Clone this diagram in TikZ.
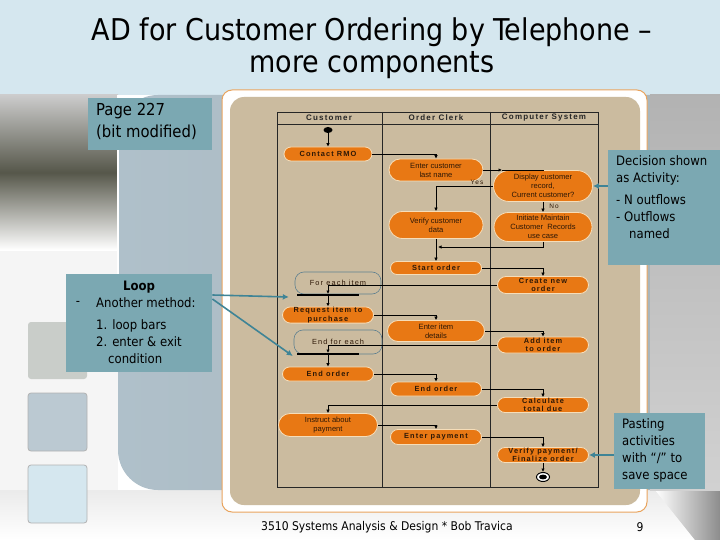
\documentclass[tikz,border=0pt]{standalone}
\usepackage{fontspec}
\setmainfont{DejaVu Sans Condensed}
\newfontfamily\dia[LetterSpace=15]{Liberation Sans}
\newfontfamily\dian{Liberation Sans}
\usetikzlibrary{shapes.misc,shapes.geometric,arrows.meta,calc}
\definecolor{titlebg}{HTML}{D5E7EF}
\definecolor{panelL}{HTML}{AFC0CA}
\definecolor{panelR}{HTML}{A9B3B8}
\definecolor{tanbg}{HTML}{CBBB9F}
\definecolor{actfill}{HTML}{E87814}
\definecolor{actedge}{HTML}{F6DDB8}
\definecolor{acttext}{HTML}{2E1806}
\definecolor{callbg}{HTML}{7BA8B2}
\definecolor{callline}{HTML}{3F8496}
\definecolor{cloudcol}{HTML}{5E8090}
\definecolor{frameor}{HTML}{E9A45E}
\definecolor{photo}{HTML}{56574A}
\begin{document}
\begin{tikzpicture}[x=1pt,y=-1pt,
  act/.style={rounded rectangle, fill=actfill, draw=actedge, line width=0.8pt,
    font=\dia\bfseries\fontsize{7.4}{8.3}\selectfont, text=acttext, align=center, inner sep=0.5pt},
  narrow/.style={font=\dian\fontsize{7.6}{9}\selectfont},
  flow/.style={draw=black, line width=0.7pt, -{Latex[length=3.5pt,width=3.5pt]}},
  lbl/.style={font=\dia\fontsize{6.5}{7}\selectfont, text=acttext, inner sep=0.5pt},
  lanehead/.style={font=\dia\bfseries\fontsize{8}{9}\selectfont, text=black!85},
  barnode/.style={fill=black, minimum width=62pt, minimum height=1.6pt, inner sep=0pt},
  cloudbox/.style={draw=cloudcol, line width=0.6pt, rounded corners=9pt,
    font=\dia\fontsize{7.4}{8}\selectfont, text=acttext, inner sep=1pt},
  callbox/.style={fill=callbg, draw=none, inner sep=0pt},
  calltext/.style={font=\fontsize{13}{17}\selectfont, text=black, align=left, inner sep=0pt},
  callarrow/.style={draw=callline, line width=1.6pt, -{Latex[length=6pt,width=6pt]}},
  squarebox/.style={rounded corners=3pt}
]
\useasboundingbox (0,0) rectangle (720,540);
% ---------- slide background ----------
\fill[white] (0,0) rectangle (720,540);
\fill[titlebg] (0,0) rectangle (720,95);
\fill[top color=black!8, bottom color=white] (0,490) rectangle (720,540);
\shade[left color=white, right color=black!45] (655,490) -- (720,490) -- (720,540) -- (695,540) -- cycle;
\fill[color=black!4] (0,250) rectangle (118,490);
\shade[top color=black!20, bottom color=white, middle color=photo] (0,95) rectangle (118,250);
\shade[left color=panelL, right color=panelR, rounded corners=40pt] (118,95) -- (118,490) -- (720,490) -- (720,95) -- cycle;
\shade[top color=black!30, bottom color=black!18] (650,95) rectangle (720,490);
\draw[white, line width=1.2pt] (118,95) -- (118,372);
% left decorative squares
\fill[squarebox, fill=black!25!green!5!gray!40] (28,322) rectangle (87,379);
\fill[squarebox, fill=panelL!85!white] (28,393) rectangle (87,451);
\fill[squarebox, fill=titlebg] (28,465) rectangle (87,523);
\draw[black!30, line width=0.8pt, rounded corners=3pt] (28,393) rectangle (87,451);
\draw[black!30, line width=0.8pt, rounded corners=3pt] (28,465) rectangle (87,523);
% ---------- title ----------
\node[font=\fontsize{30}{32}\selectfont, align=center, text=black] (title) at (372,48)
  {AD for Customer Ordering by Telephone --\\more components};
% ---------- diagram frame ----------
\fill[white, draw=frameor, line width=1pt, rounded corners=10pt] (222,90) rectangle (647,512);
\fill[tanbg, rounded corners=14pt] (230,97) rectangle (640,505);
\draw[black!85, line width=0.8pt] (277,112) rectangle (598,487);
\draw[black!85, line width=0.8pt] (277,124) -- (598,124);
\draw[black!85, line width=0.8pt] (382,112) -- (382,487);
\draw[black!85, line width=0.8pt] (490,112) -- (490,487);
\node[lanehead] (h1) at (329,118) {Customer};
\node[lanehead] (h2) at (436,118) {Order Clerk};
\node[lanehead] (h3) at (544,118) {Computer System};
% ---------- activities ----------
\node[ellipse, fill=black, minimum width=9pt, minimum height=6pt, inner sep=0pt] (start) at (328,130) {};
\node[act, minimum width=89pt, minimum height=14pt] (rmo) at (328,154) {Contact RMO};
\node[act, narrow, minimum width=95pt, minimum height=22pt] (ecl) at (436,170) {Enter customer\\last name};
\node[act, narrow, minimum width=100pt, minimum height=31pt] (dcr) at (543,186) {Display customer\\record,\\Current customer?};
\node[act, narrow, minimum width=95pt, minimum height=27pt] (ver) at (436,225) {Verify customer\\data};
\node[act, narrow, minimum width=99pt, minimum height=29pt] (imc) at (543,227) {Initiate Maintain\\Customer\ \ Records\\use case};
\node[act, minimum width=92pt, minimum height=13pt] (sto) at (436,268) {Start order};
\node[act, minimum width=92pt, minimum height=17pt] (cno) at (543,285) {Create new\\order};
\node[cloudbox, minimum width=86pt, minimum height=22pt] (fe) at (338,283) {For each item};
\node[barnode] (bar1) at (328,295) {};
\node[act, minimum width=92pt, minimum height=15pt] (rip) at (328,315) {Request item to\\purchase};
\node[act, narrow, minimum width=98pt, minimum height=21pt] (eid) at (436,331) {Enter item\\details};
\node[act, minimum width=92pt, minimum height=16pt] (aio) at (543,345) {Add item\\to order};
\node[cloudbox, minimum width=88pt, minimum height=24pt] (efe) at (338,342) {End for each};
\node[barnode] (bar2) at (328,354) {};
\node[act, minimum width=92pt, minimum height=14pt] (eo1) at (328,374) {End order};
\node[act, minimum width=92pt, minimum height=14pt] (eo2) at (436,389) {End order};
\node[act, minimum width=92pt, minimum height=15pt] (ctd) at (543,405) {Calculate\\total due};
\node[act, narrow, minimum width=100pt, minimum height=23pt] (iap) at (328,425) {Instruct about\\payment};
\node[act, minimum width=92pt, minimum height=15pt] (ep) at (436,437) {Enter payment};
\node[act, minimum width=92pt, minimum height=15pt] (vpf) at (543,455) {Verify payment/\\Finalize order};
\node[ellipse, draw=black, line width=1pt, fill=white, minimum width=13pt, minimum height=9pt, inner sep=0pt,
  path picture={\fill[black] (path picture bounding box.center) ellipse (4pt and 2.4pt);}] (fin) at (543,477) {};
% ---------- flows ----------
\coordinate (j2) at (502,170);
\coordinate (j3) at (438,247);
\draw[flow] (start) -- (rmo);
\draw[flow] (rmo.east) -| (ecl.north);
\draw[flow] (ecl.east) -- (j2);
\draw[black, line width=0.7pt] (j2) -| (dcr.north);
\draw[flow] (dcr.west) -| (ver.north);
\node[lbl] (yes) at (477,182) {Yes};
\draw[flow] (dcr.south) -- (imc.north);
\node[lbl] (no) at (554,206) {No};
\draw[flow] (ver.south) -- (sto.north);
\draw[flow] (imc.south) |- (j3);
\draw[flow] (sto.east) -| (cno.north);
\draw[flow] (cno.west) -| (bar1.north);
\draw[flow] (bar1.south) -- (rip.north);
\draw[flow] (rip.east) -| (eid.north);
\draw[flow] (eid.east) -| (aio.north);
\draw[flow] (aio.west) -| (bar2.north);
\draw[flow] (bar2.south) -- (eo1.north);
\draw[flow] (eo1.east) -| (eo2.north);
\draw[flow] (eo2.east) -| (ctd.north);
\draw[flow] (ctd.west) -| (iap.north);
\draw[flow] (iap.east) -| (ep.north);
\draw[flow] (ep.east) -| (vpf.north);
\draw[flow] (vpf.south) -- (fin);
% ---------- callouts ----------
\node[callbox, minimum width=124pt, minimum height=52pt, anchor=north west] (pg) at (88,98) {};
\node[calltext, font=\fontsize{16.5}{22}\selectfont, anchor=north west] (pgt) at (96,103) {Page 227\\(bit modified)};

\node[callbox, minimum width=112pt, minimum height=115pt, anchor=north west] (dec) at (608,150) {};
\node[calltext, anchor=north west] (dect) at (616,155) {Decision shown\\as Activity:\\[5pt]- N outflows\\- Outflows\\\hspace*{13pt}named};
\draw[callarrow] (dec.west |- dcr.east) -- (dcr.east);

\node[callbox, minimum width=91pt, minimum height=76pt, anchor=north west] (pas) at (614,413) {};
\node[calltext, anchor=north west] (past) at (622,418) {Pasting\\activities\\with “/” to\\save space};
\draw[callarrow] (pas.west |- vpf.east) -- (vpf.east);

\node[callbox, minimum width=146pt, minimum height=98pt, anchor=north west] (loop) at (66,274) {};
\node[calltext, font=\bfseries\fontsize{13}{17}\selectfont] (loopt) at (139,287) {Loop};
\node[calltext] (dash) at (78,303) {-};
\node[calltext, anchor=west] (another) at (96,303) {Another method:};
\node[calltext, anchor=north west] (steps) at (96,319) {1. loop bars\\2. enter \& exit\\\hspace*{12pt}condition};
\draw[callarrow] (loop.east |- bar1) -- ($(bar1.west)+(-8,2)$);
\draw[callarrow] ($(loop.east |- bar1)+(0,4)$) -- ($(bar2.west)+(-4,2)$);
% ---------- footer ----------
\node[font=\fontsize{12}{14}\selectfont, text=black] (foot) at (387,527) {3510 Systems Analysis \& Design * Bob Travica};
\node[font=\fontsize{12}{14}\selectfont, text=black] (pnum) at (640,527) {9};
\end{tikzpicture}
\end{document}
